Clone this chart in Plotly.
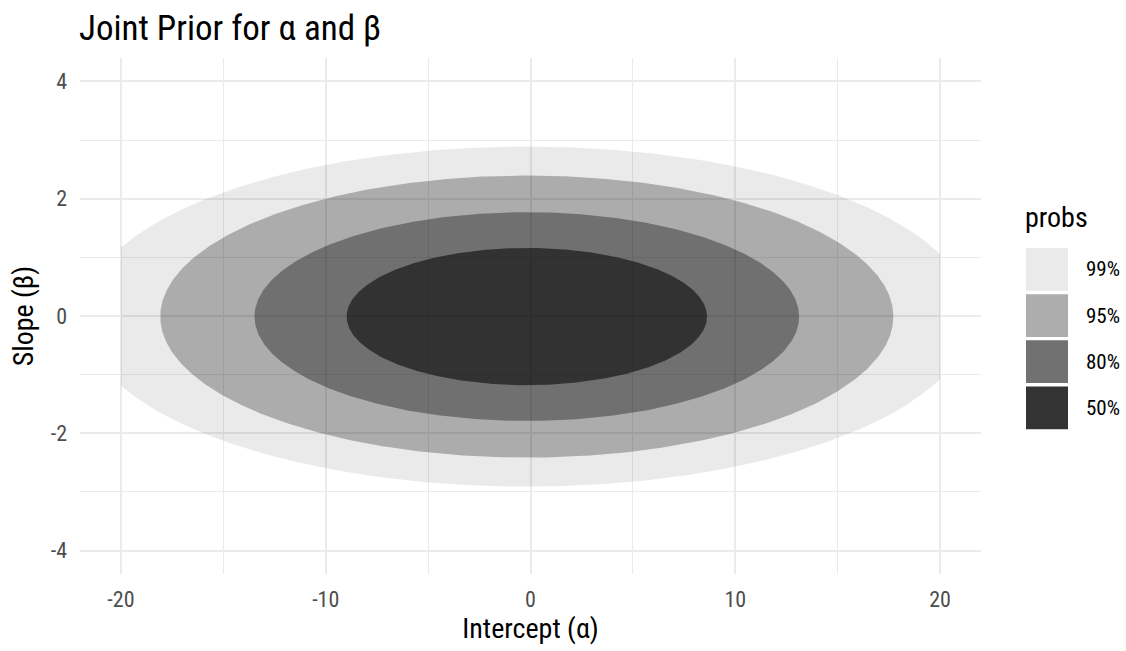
import numpy as np
import plotly.graph_objects as go

# ---- data ----
probs = ["99%", "95%", "80%", "50%"]
alpha_half_width = [21.7, 17.9, 13.3, 8.8]     # semi-axis along Intercept (alpha)
beta_half_height = [2.90, 2.405, 1.78, 1.17]   # semi-axis along Slope (beta)
alpha_center = -0.18
beta_center = -0.01
alpha_limits = [-20, 20]                        # grid range the regions were computed on

x_ticks = [-20, -10, 0, 10, 20]
y_ticks = [-4, -2, 0, 2, 4]

# ---- styles ----
layer_fill = ["rgba(0,0,0,0.082)", "rgba(0,0,0,0.261)", "rgba(0,0,0,0.347)", "rgba(0,0,0,0.549)"]
key_color = ["#EAEAEA", "#ADADAD", "#717171", "#333333"]
FONT = "Roboto Condensed, Liberation Sans Narrow, DejaVu Sans Condensed, Roboto, sans-serif"

W, H = 1126, 651
PL, PR, PT, PB = 80, 981, 58, 577   # panel edges in pixels

fig = go.Figure()
theta = np.linspace(0, 2 * np.pi, 721)
for p, a, b, fc in zip(probs, alpha_half_width, beta_half_height, layer_fill):
    xs = np.clip(alpha_center + a * np.cos(theta), alpha_limits[0], alpha_limits[1])
    ys = beta_center + b * np.sin(theta)
    fig.add_trace(go.Scatter(x=xs, y=ys, mode="lines", fill="toself", fillcolor=fc,
                             line=dict(width=0, color="rgba(0,0,0,0)"), name=p,
                             showlegend=False, hoverinfo="skip"))

def px_x(px):
    return (px - PL) / (PR - PL)

def px_y(py):
    return (PB - py) / (PB - PT)

# custom legend (large square keys like ggplot)
shapes = []
annotations = []
key_x0, key_x1 = 1026, 1068
key_top = 249
key_h, key_gap = 43, 3.5
for i, (p, kc) in enumerate(zip(probs, key_color)):
    y0 = key_top + i * (key_h + key_gap)
    shapes.append(dict(type="rect", xref="paper", yref="paper",
                       x0=px_x(key_x0), x1=px_x(key_x1),
                       y0=px_y(y0 + key_h), y1=px_y(y0),
                       fillcolor=kc, line=dict(width=0), layer="above"))
    annotations.append(dict(xref="paper", yref="paper",
                            x=px_x(1084), y=px_y(y0 + key_h / 2),
                            text=p, showarrow=False, xanchor="left", yanchor="middle",
                            font=dict(family=FONT, size=21, color="#000000")))
annotations.append(dict(xref="paper", yref="paper",
                        x=px_x(1023), y=px_y(218),
                        text="probs", showarrow=False, xanchor="left", yanchor="middle",
                        font=dict(family=FONT, size=28, color="#000000")))

fig.update_layout(
    width=W, height=H,
    margin=dict(l=PL, r=W - PR, t=PT, b=H - PB),
    paper_bgcolor="white", plot_bgcolor="white",
    title=dict(text="Joint Prior for α and β", x=79 / W, xanchor="left",
               y=1 - 28 / H, yanchor="middle",
               font=dict(family=FONT, size=35, color="#000000")),
    shapes=shapes, annotations=annotations,
    showlegend=False,
    font=dict(family=FONT),
)
fig.update_xaxes(range=[-22, 22], tickvals=x_ticks, ticktext=[str(v) for v in x_ticks],
                 showgrid=True, gridcolor="#EBEBEB", gridwidth=2, zeroline=False,
                 showline=False, ticks="", ticklabelstandoff=10,
                 minor=dict(dtick=5, tick0=0, showgrid=True, gridcolor="#EBEBEB", gridwidth=1),
                 tickfont=dict(family=FONT, size=22, color="#4D4D4D"),
                 title=dict(text="Intercept (α)", standoff=7,
                            font=dict(family=FONT, size=28, color="#000000")))
fig.update_yaxes(range=[-4.4, 4.4], tickvals=y_ticks, ticktext=[str(v) for v in y_ticks],
                 showgrid=True, gridcolor="#EBEBEB", gridwidth=2, zeroline=False,
                 showline=False, ticks="", ticklabelstandoff=12,
                 minor=dict(dtick=1, tick0=0, showgrid=True, gridcolor="#EBEBEB", gridwidth=1),
                 tickfont=dict(family=FONT, size=22, color="#4D4D4D"),
                 title=dict(text="Slope (β)", standoff=8,
                            font=dict(family=FONT, size=28, color="#000000")))

fig.write_html("out.html")
